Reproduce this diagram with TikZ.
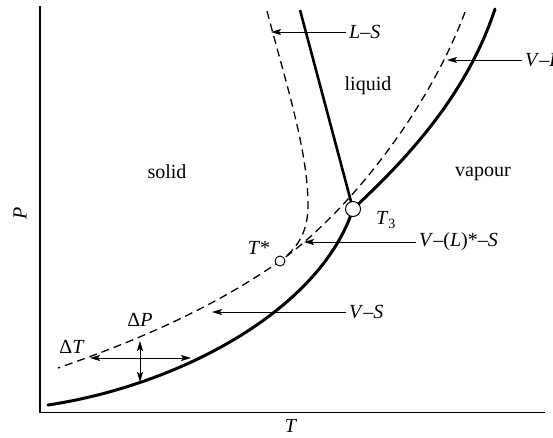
\documentclass[tikz,border=0pt]{standalone}
\usepackage{fontspec}
\setmainfont{Liberation Serif}
\usetikzlibrary{arrows.meta}
\begin{document}
\begin{tikzpicture}[x=1pt, y=-1pt,
    font=\fontsize{20}{24}\selectfont,
    stable/.style={line width=3pt, line cap=round},
    melting/.style={line width=2.6pt},
    metastable/.style={line width=1.3pt, dash pattern=on 8pt off 5pt},
    pointer/.style={line width=0.9pt, -{Stealth[length=10pt, width=6pt, inset=2pt]}},
    gap/.style={line width=0.9pt, {Stealth[length=10pt, width=6pt, inset=2pt]}-{Stealth[length=10pt, width=6pt, inset=2pt]}},
    tag/.style={anchor=west, inner sep=3pt}]
    \useasboundingbox (0,0) rectangle (553,437);

    % Axes
    \coordinate (ytop) at (40,6);
    \coordinate (origin) at (40,412.5);
    \coordinate (xend) at (545,412.5);
    \draw[line width=1.2pt] (ytop) -- (origin) -- (xend);
    \node[rotate=90] (Plbl) at (20,213) {\textit{P}};
    \node (Tlbl) at (291,426) {\textit{T}};

    % Metastable boundaries (dashed)
    \draw[metastable] (465,12) .. controls (425,119) and (340,219) .. (280,261)
        .. controls (210,310) and (133,342) .. (58,368);
    \draw[metastable] (267,11) .. controls (285,80) and (308,150) .. (308,205)
        .. controls (308,235) and (295,250) .. (280,261);

    % Stable boundaries
    \draw[stable] (48,405) .. controls (180,385) and (320,310) .. (353,209);
    \draw[stable] (353,209) .. controls (400,165) and (465,100) .. (495,9);
    \draw[melting] (300,10) -- (353,209);

    % Triple point and T*
    \node[circle, draw, fill=white, line width=1pt, minimum size=15pt, inner sep=0pt] (T3pt) at (353,209) {};
    \node[circle, draw, fill=white, line width=0.9pt, minimum size=10pt, inner sep=0pt] (Tstar) at (280,261) {};
    \node (T3lbl) at (386,220) {\textit{T}\textsubscript{3}};
    \node (Tstarlbl) at (259,248) {\textit{T}*};

    % Phase regions
    \node (solidlbl) at (167,172) {solid};
    \node (liquidlbl) at (368,86) {liquid};
    \node (vapourlbl) at (483,174) {vapour};

    % Curve labels with pointers
    \coordinate (lstip) at (271,32);
    \coordinate (vltip) at (447,60);
    \coordinate (vlstip) at (304,242);
    \coordinate (vstip) at (212,312);
    \node[tag] (lslbl) at (346,32) {\textit{L}–\textit{S}};
    \node[tag] (vllbl) at (522,60) {\textit{V}–\textit{L}};
    \node[tag] (vlslbl) at (416,242) {\textit{V}–(\textit{L})*–\textit{S}};
    \node[tag] (vslbl) at (346,312) {\textit{V}–\textit{S}};
    \draw[pointer] (lslbl.west) -- (lstip);
    \draw[pointer] (vllbl.west) -- (vltip);
    \draw[pointer] (vlslbl.west) -- (vlstip);
    \draw[pointer] (vslbl.west) -- (vstip);

    % Undercooling gaps
    \coordinate (dTleft) at (90,358);
    \coordinate (dTright) at (191,358);
    \coordinate (dPtop) at (140,341);
    \coordinate (dPbot) at (140,382);
    \draw[gap] (dTleft) -- (dTright);
    \draw[gap] (dPtop) -- (dPbot);
    \node (dTlbl) at (72,347) {Δ\textit{T}};
    \node (dPlbl) at (140,320) {Δ\textit{P}};
\end{tikzpicture}
\end{document}
